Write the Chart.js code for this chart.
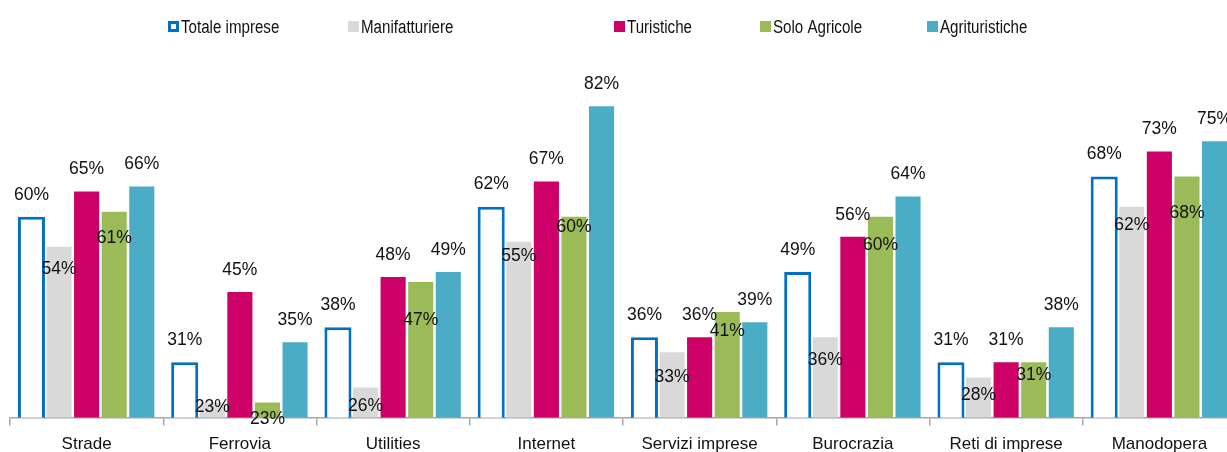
<!DOCTYPE html>
<html>
<head>
<meta charset="utf-8">
<script src="https://cdn.jsdelivr.net/npm/chart.js@4.4.1/dist/chart.umd.min.js"></script>
<style>
  html, body { margin: 0; padding: 0; background: #fff; overflow: hidden; }
  canvas { display: block; }
</style>
</head>
<body>
<canvas id="barChart" width="1240" height="464"></canvas>
<script>
const categories = ['Strade', 'Ferrovia', 'Utilities', 'Internet', 'Servizi imprese', 'Burocrazia', 'Reti di imprese', 'Manodopera'];
const seriesNames = ['Totale imprese', 'Manifatturiere', 'Turistiche', 'Solo Agricole', 'Agrituristiche'];
const totale = [60, 31, 38, 62, 36, 49, 31, 68];
const manifatturiere = [54, 23, 26, 55, 33, 36, 28, 62];
const turistiche = [65, 45, 48, 67, 36, 56, 31, 73];
const soloAgricole = [61, 23, 47, 60, 41, 60, 31, 68];
const agrituristiche = [66, 35, 49, 82, 39, 64, 38, 75];

const FONT = '"Liberation Sans", Arial, sans-serif';

// labels of the grey and green bars sit just under the bar top, the others above it
const manifLabelDrop = [22, 5, 19, 14, 25, 23, 18, 19];
const agricoleLabelDrop = [27, 17, 38, 10, 19, 28, 13, 37];

const valueLabels = {
  id: 'valueLabels',
  afterDatasetsDraw(chart) {
    const ctx = chart.ctx;
    ctx.save();
    ctx.font = '17.5px ' + FONT;
    ctx.fillStyle = '#111';
    ctx.textAlign = 'center';
    ctx.textBaseline = 'middle';
    chart.data.datasets.forEach((ds, i) => {
      chart.getDatasetMeta(i).data.forEach((bar, j) => {
        const shift = ds.labelDrop ? ds.labelDrop[j] : -22;
        ctx.fillText(ds.data[j] + '%', bar.x, bar.y + shift);
      });
    });
    ctx.restore();
  }
};

// one-row legend with its own spacing between the entries
const legendRow = {
  id: 'legendRow',
  afterDraw(chart) {
    const ctx = chart.ctx;
    const xs = [168, 348, 614, 760, 927];
    ctx.save();
    ctx.font = '18px ' + FONT;
    ctx.fillStyle = '#111';
    ctx.textBaseline = 'alphabetic';
    chart.data.datasets.forEach((ds, i) => {
      const x = xs[i];
      if (ds.borderWidth) {
        ctx.fillStyle = ds.borderColor;
        ctx.fillRect(x, 21, 11, 11);
        ctx.fillStyle = '#fff';
        ctx.fillRect(x + 3, 24, 5, 5);
      } else {
        ctx.fillStyle = ds.backgroundColor;
        ctx.fillRect(x, 21, 11, 11);
      }
      ctx.fillStyle = '#111';
      ctx.save();
      ctx.translate(x + 13, 33);
      ctx.scale(0.84, 1);
      ctx.fillText(ds.label, 0, 0);
      ctx.restore();
    });
    ctx.restore();
  }
};

const ctxBar = document.getElementById('barChart').getContext('2d');
new Chart(ctxBar, {
  type: 'bar',
  data: {
    labels: categories,
    datasets: [
      { label: seriesNames[0], data: totale, backgroundColor: '#ffffff', borderColor: '#0070C0',
        borderWidth: 3, borderSkipped: false, barPercentage: 0.98 },
      { label: seriesNames[1], data: manifatturiere, backgroundColor: '#D9D9D9', labelDrop: manifLabelDrop },
      { label: seriesNames[2], data: turistiche, backgroundColor: '#CC0066' },
      { label: seriesNames[3], data: soloAgricole, backgroundColor: '#9BBB59', labelDrop: agricoleLabelDrop },
      { label: seriesNames[4], data: agrituristiche, backgroundColor: '#4BACC6' }
    ]
  },
  options: {
    responsive: false,
    animation: false,
    datasets: { bar: { categoryPercentage: 0.9, barPercentage: 0.91 } },
    layout: { padding: { left: 10, right: 4, top: 66, bottom: 0 } },
    plugins: { legend: { display: false }, tooltip: { enabled: false } },
    scales: {
      x: {
        grid: { drawOnChartArea: false, tickLength: 8, color: '#A6A6A6', lineWidth: 1.5 },
        border: { color: '#A6A6A6', width: 1.5 },
        ticks: { color: '#111', font: { family: FONT, size: 17 }, padding: 9, maxRotation: 0, autoSkip: false }
      },
      y: { display: false, min: 20, max: 90 }
    }
  },
  plugins: [valueLabels, legendRow]
});
</script>
</body>
</html>
